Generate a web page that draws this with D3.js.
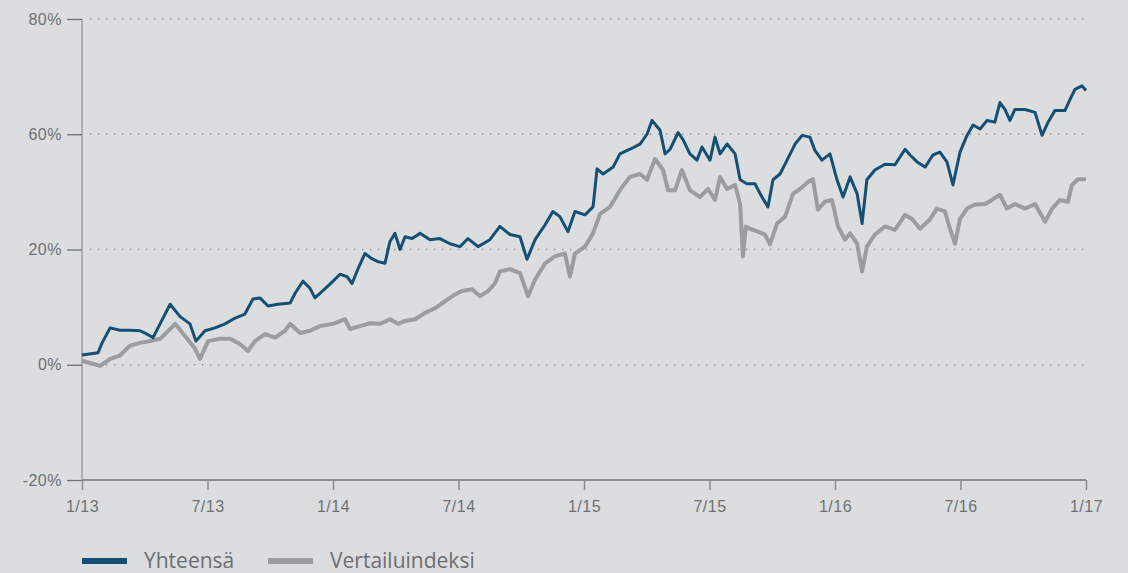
<!DOCTYPE html>
<html>
<head>
<meta charset="utf-8">
<script src="https://cdn.jsdelivr.net/npm/d3@7"></script>
<style>
  body { margin: 0; background: #dcdddf; }
  svg { display: block; font-family: "Open Sans", "Noto Sans", sans-serif; }
  .tick text { fill: #6e7275; font-size: 16px; letter-spacing: 0.5px; }
</style>
</head>
<body>
<script>
// step 1: data (time as decimal year, value in %)

var xTickValues = [2013, 2013.5, 2014, 2014.5, 2015, 2015.5, 2016, 2016.5, 2017];
var xTickLabels = ["1/13", "7/13", "1/14", "7/14", "1/15", "7/15", "1/16", "7/16", "1/17"];
var yTickValues = [-20, 0, 20, 40, 60];
var yTickLabels = ["-20%", "0%", "20%", "60%", "80%"];
var seriesNames = ["Yhteensä", "Vertailuindeksi"];

var totalT = [2013.000, 2013.064, 2013.080, 2013.112, 2013.151, 2013.191, 2013.231, 2013.251, 2013.283, 2013.311,
  2013.351, 2013.390, 2013.430, 2013.454, 2013.490, 2013.530, 2013.570, 2013.610, 2013.649, 2013.681,
  2013.709, 2013.741, 2013.781, 2013.829, 2013.849, 2013.880, 2013.908, 2013.928, 2013.948, 2013.988,
  2014.028, 2014.056, 2014.076, 2014.100, 2014.127, 2014.155, 2014.179, 2014.207, 2014.227, 2014.247,
  2014.267, 2014.287, 2014.315, 2014.347, 2014.386, 2014.426, 2014.466, 2014.506, 2014.538, 2014.578,
  2014.625, 2014.665, 2014.705, 2014.745, 2014.773, 2014.805, 2014.845, 2014.876, 2014.904, 2014.936,
  2014.964, 2015.004, 2015.036, 2015.052, 2015.076, 2015.116, 2015.143, 2015.183, 2015.223, 2015.251,
  2015.271, 2015.303, 2015.323, 2015.343, 2015.375, 2015.394, 2015.422, 2015.450, 2015.470, 2015.502,
  2015.522, 2015.542, 2015.570, 2015.602, 2015.622, 2015.649, 2015.681, 2015.709, 2015.733, 2015.753,
  2015.781, 2015.809, 2015.841, 2015.869, 2015.900, 2015.920, 2015.948, 2015.980, 2016.008, 2016.032,
  2016.060, 2016.088, 2016.108, 2016.127, 2016.159, 2016.199, 2016.239, 2016.279, 2016.299, 2016.327,
  2016.359, 2016.390, 2016.418, 2016.446, 2016.470, 2016.498, 2016.526, 2016.550, 2016.578, 2016.606,
  2016.637, 2016.657, 2016.677, 2016.697, 2016.717, 2016.757, 2016.797, 2016.825, 2016.849, 2016.876,
  2016.916, 2016.936, 2016.956, 2016.984, 2017.000];
var totalV = [1.7, 2.1, 3.8, 6.4, 6.0, 6.0, 5.9, 5.5, 4.7, 7.1,
  10.5, 8.4, 7.1, 4.1, 5.9, 6.4, 7.1, 8.1, 8.8, 11.4,
  11.6, 10.2, 10.5, 10.7, 12.4, 14.5, 13.3, 11.6, 12.4, 14.0,
  15.7, 15.3, 14.1, 16.7, 19.3, 18.4, 17.9, 17.6, 21.4, 22.8,
  20.0, 22.2, 21.9, 22.8, 21.7, 21.9, 21.0, 20.5, 21.9, 20.5,
  21.7, 24.0, 22.6, 22.2, 18.3, 21.7, 24.3, 26.6, 25.7, 23.1,
  26.6, 26.0, 27.4, 34.0, 33.1, 34.3, 36.6, 37.4, 38.3, 40.0,
  42.4, 40.7, 36.6, 37.4, 40.3, 39.1, 36.6, 35.5, 37.8, 35.5,
  39.5, 36.6, 38.3, 36.6, 32.1, 31.4, 31.4, 29.1, 27.4, 32.1,
  33.1, 35.5, 38.3, 39.8, 39.5, 37.2, 35.5, 36.6, 32.1, 29.1,
  32.6, 29.7, 24.5, 32.1, 33.8, 34.8, 34.7, 37.4, 36.4, 35.2,
  34.3, 36.4, 36.9, 35.2, 31.2, 36.9, 39.8, 41.6, 40.9, 42.4,
  42.1, 45.5, 44.3, 42.4, 44.3, 44.3, 43.8, 39.8, 42.1, 44.1,
  44.1, 46.0, 47.8, 48.4, 47.6];

var benchT = [2013.000, 2013.032, 2013.072, 2013.112, 2013.151, 2013.191, 2013.231, 2013.271, 2013.311, 2013.351,
  2013.371, 2013.410, 2013.450, 2013.470, 2013.502, 2013.550, 2013.590, 2013.629, 2013.661, 2013.689,
  2013.729, 2013.769, 2013.809, 2013.829, 2013.869, 2013.908, 2013.948, 2014.000, 2014.048, 2014.068,
  2014.108, 2014.147, 2014.187, 2014.227, 2014.259, 2014.287, 2014.327, 2014.367, 2014.406, 2014.446,
  2014.486, 2014.514, 2014.554, 2014.586, 2014.618, 2014.645, 2014.665, 2014.705, 2014.745, 2014.777,
  2014.805, 2014.845, 2014.884, 2014.924, 2014.944, 2014.964, 2015.004, 2015.036, 2015.064, 2015.104,
  2015.143, 2015.183, 2015.223, 2015.251, 2015.283, 2015.315, 2015.335, 2015.363, 2015.390, 2015.422,
  2015.462, 2015.494, 2015.522, 2015.542, 2015.570, 2015.602, 2015.622, 2015.633, 2015.645, 2015.661,
  2015.693, 2015.721, 2015.741, 2015.769, 2015.801, 2015.833, 2015.861, 2015.892, 2015.912, 2015.932,
  2015.960, 2015.988, 2016.012, 2016.040, 2016.060, 2016.088, 2016.108, 2016.127, 2016.159, 2016.199,
  2016.239, 2016.279, 2016.307, 2016.339, 2016.378, 2016.406, 2016.438, 2016.458, 2016.478, 2016.498,
  2016.526, 2016.558, 2016.598, 2016.625, 2016.657, 2016.685, 2016.717, 2016.757, 2016.797, 2016.837,
  2016.865, 2016.896, 2016.928, 2016.944, 2016.968, 2017.000];
var benchV = [0.7, 0.3, -0.2, 1.0, 1.6, 3.3, 3.8, 4.1, 4.5, 6.2,
  7.1, 5.0, 2.8, 1.0, 4.1, 4.5, 4.5, 3.6, 2.4, 4.1,
  5.3, 4.7, 5.9, 7.1, 5.5, 5.9, 6.7, 7.1, 7.9, 6.2,
  6.7, 7.2, 7.1, 7.9, 7.1, 7.6, 7.9, 9.0, 9.8, 11.0,
  12.2, 12.8, 13.1, 11.9, 12.8, 14.1, 16.2, 16.6, 15.9, 11.9,
  14.8, 17.6, 18.8, 19.3, 15.3, 19.3, 20.5, 22.8, 26.2, 27.4,
  30.3, 32.6, 33.1, 32.1, 35.7, 33.8, 30.3, 30.3, 33.8, 30.3,
  29.1, 30.5, 28.6, 32.6, 30.5, 31.2, 27.9, 18.8, 24.0, 23.6,
  23.1, 22.6, 20.9, 24.5, 25.7, 29.7, 30.5, 31.7, 32.2, 26.9,
  28.3, 28.6, 24.0, 21.7, 22.8, 21.0, 16.2, 20.5, 22.6, 24.0,
  23.4, 26.0, 25.3, 23.6, 25.2, 27.1, 26.6, 23.6, 21.0, 25.3,
  27.1, 27.8, 27.9, 28.6, 29.5, 27.1, 27.9, 27.1, 27.9, 24.8,
  27.1, 28.6, 28.3, 31.2, 32.2, 32.2];

// step 2: chart setup
var svgWidth = 1128;
var svgHeight = 573;
var margin = { top: 19, right: 42, bottom: 93, left: 82 };
var width = svgWidth - margin.left - margin.right;
var height = svgHeight - margin.top - margin.bottom;

var svg = d3.select("body")
  .append("svg")
  .attr("width", svgWidth)
  .attr("height", svgHeight);

var chartGroup = svg.append("g")
  .attr("transform", `translate(${margin.left}, ${margin.top})`);

// scales
var xScale = d3.scaleLinear().domain([2013, 2017]).range([0, width]);
var yScale = d3.scaleLinear().domain([-20, 60]).range([height, 0]);

// dotted gridlines
chartGroup.selectAll(".grid")
  .data(yTickValues.slice(1))
  .enter()
  .append("line")
  .attr("class", "grid")
  .attr("x1", 8)
  .attr("x2", width)
  .attr("y1", d => yScale(d))
  .attr("y2", d => yScale(d))
  .attr("stroke", "#8d8f91")
  .attr("stroke-width", 1.3)
  .attr("stroke-dasharray", "1.3,6.7");

// axes
var bottomAxis = d3.axisBottom(xScale)
  .tickValues(xTickValues)
  .tickSize(10)
  .tickPadding(11)
  .tickFormat((d, i) => xTickLabels[i]);

var leftAxis = d3.axisLeft(yScale)
  .tickValues(yTickValues)
  .tickSize(15)
  .tickPadding(5)
  .tickFormat((d, i) => yTickLabels[i]);

var xAxisG = chartGroup.append("g")
  .attr("transform", `translate(0, ${height})`)
  .call(bottomAxis);
xAxisG.select(".domain").attr("stroke", "#707274").attr("stroke-width", 1.5).attr("d", `M0,0H${width}`);
xAxisG.selectAll(".tick line").attr("stroke", "#8a8c8e").attr("stroke-width", 1.5);

var yAxisG = chartGroup.append("g").call(leftAxis);
yAxisG.select(".domain").attr("stroke", "#9c9ea0").attr("stroke-width", 1.5).attr("d", `M0,0V${height}`);
yAxisG.selectAll(".tick line").attr("stroke", "#6e7072").attr("stroke-width", 1.3);

// lines
var line = d3.line()
  .x(d => xScale(d[0]))
  .y(d => yScale(d[1]));

var benchData = benchT.map((t, i) => [t, benchV[i]]);
var totalData = totalT.map((t, i) => [t, totalV[i]]);

chartGroup.append("path")
  .datum(benchData)
  .attr("fill", "none")
  .attr("stroke", "#9a9e9e")
  .attr("stroke-width", 4)
  .attr("stroke-linejoin", "round")
  .attr("d", line);

chartGroup.append("path")
  .datum(totalData)
  .attr("fill", "none")
  .attr("stroke", "#154f73")
  .attr("stroke-width", 3)
  .attr("stroke-linejoin", "round")
  .attr("d", line);

// legend
var legendColors = ["#154f73", "#9a9e9e"];
var legendX = [82, 268];
var legend = svg.selectAll(".legend")
  .data(seriesNames)
  .enter()
  .append("g")
  .attr("class", "legend")
  .attr("transform", (d, i) => `translate(${legendX[i]}, 561)`);

legend.append("rect")
  .attr("x", 0)
  .attr("y", -3)
  .attr("width", 45)
  .attr("height", 6)
  .attr("fill", (d, i) => legendColors[i]);

legend.append("text")
  .attr("x", 62)
  .attr("y", 7)
  .attr("fill", "#6b6f71")
  .attr("font-size", "21px")
  .text(d => d);
</script>
</body>
</html>
